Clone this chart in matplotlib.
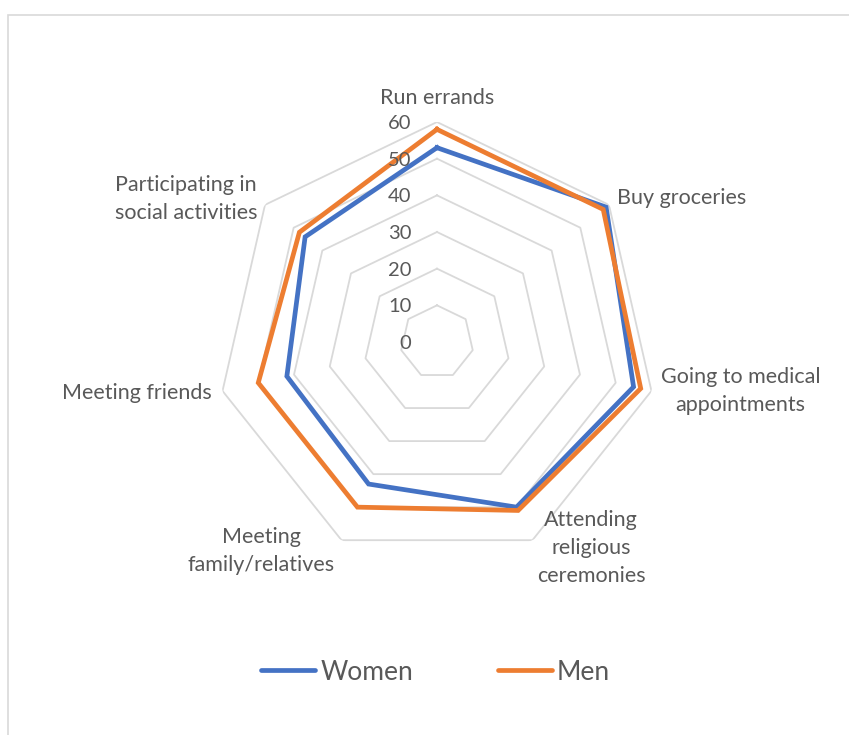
import numpy as np
import matplotlib.pyplot as plt
from matplotlib.lines import Line2D
from matplotlib.patches import Rectangle

plt.rcParams['font.family'] = ['Lato', 'DejaVu Sans']

categories = ['Run errands', 'Buy groceries', 'Going to medical\nappointments',
              'Attending\nreligious\nceremonies', 'Meeting\nfamily/relatives',
              'Meeting friends', 'Participating in\nsocial activities']
women = [53, 59, 55, 50, 43, 42, 46]
men = [58, 58, 57, 51, 50, 50, 48]
ring_values = [0, 10, 20, 30, 40, 50, 60]

blue = '#4472C4'
orange = '#ED7D31'
grid_col = '#D9D9D9'
text_col = '#595959'

n = len(categories)
angles = np.linspace(0, 2 * np.pi, n, endpoint=False)
closed = np.append(angles, angles[0])

fig = plt.figure(figsize=(8.49, 7.35), dpi=100)
fig.patches.append(Rectangle((0.01, -0.2), 1.2, 0.9796 + 0.2, transform=fig.transFigure,
                             fill=False, edgecolor=grid_col, lw=1.2))

ax = fig.add_axes([0.2556, 0.2354, 0.5182, 0.5986], projection='polar')
ax.set_theta_zero_location('N')
ax.set_theta_direction(-1)
ax.set_ylim(0, 60)
ax.grid(False)
ax.spines['polar'].set_visible(False)
ax.set_xticks([])
ax.set_yticks([])
ax.patch.set_alpha(0)

# heptagon gridlines
for v in ring_values[1:]:
    ax.plot(closed, [v] * (n + 1), color=grid_col, lw=1.3, zorder=1)

for vals, col in [(women, blue), (men, orange)]:
    ax.plot(closed, vals + vals[:1], color=col, lw=3.4, solid_joinstyle='miter', zorder=3)

# value axis labels
for v in ring_values:
    ax.annotate(str(v), xy=(0, v), xytext=(-18.5, -1), textcoords='offset points',
                ha='right', va='center', fontsize=14.5, color=text_col, zorder=4)

# category labels: (theta deg, r, ha, va)
label_pos = [(0, 66.6, 'center', 'center'),
             (51.3, 62.9, 'left', 'center'),
             (102.3, 62.5, 'left', 'center'),
             (154.1, 62.4, 'left', 'center'),
             (206.0, 63.4, 'right', 'center'),
             (257.2, 62.9, 'right', 'center'),
             (308.5, 62.7, 'right', 'center')]
for name, (th, r, ha, va) in zip(categories, label_pos):
    ax.text(np.deg2rad(th), r, name, ha=ha, va=va, multialignment='center',
            fontsize=15.5, color=text_col, linespacing=1.5, clip_on=False)

handles = [Line2D([], [], color=blue, lw=3.4, solid_capstyle='round'),
           Line2D([], [], color=orange, lw=3.4, solid_capstyle='round')]
leg = fig.legend(handles, ['Women', 'Men'], loc='center', bbox_to_anchor=(0.513, 0.0857),
                 ncol=2, frameon=False, fontsize=19, handlelength=2.05,
                 handletextpad=0.2, columnspacing=3.2)
for t in leg.get_texts():
    t.set_color(text_col)

fig.savefig('out.png', dpi=100)
